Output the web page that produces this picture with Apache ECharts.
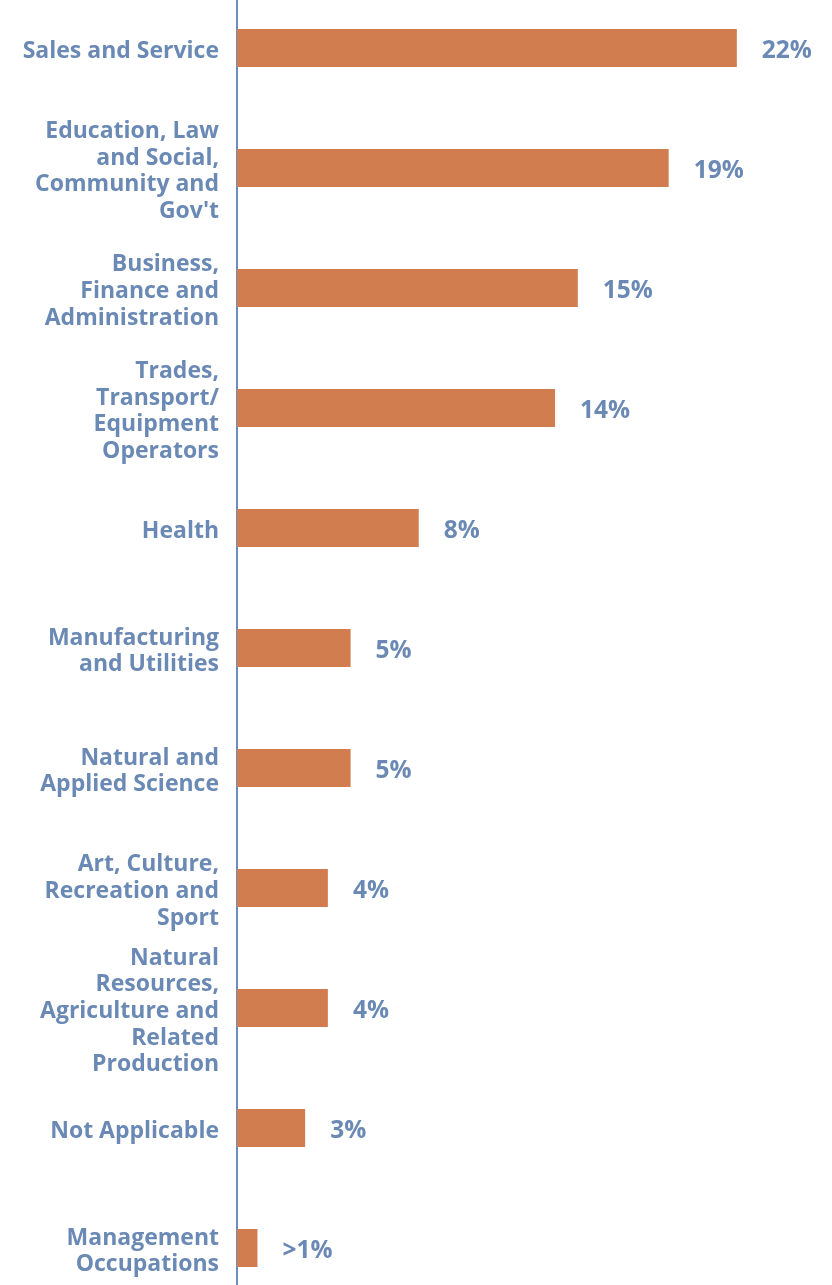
<!DOCTYPE html>
<html>
<head>
<meta charset="utf-8">
<script src="https://cdn.jsdelivr.net/npm/echarts@6/dist/echarts.min.js"></script>
<style>
html,body{margin:0;padding:0;background:#fff;}
#chart{width:832px;height:1285px;}
</style>
</head>
<body>
<div id="chart"></div>
<script>
// Occupation categories, top to bottom
const categories = [
  "Sales and Service",
  "Education, Law\nand Social,\nCommunity and\nGov't",
  "Business,\nFinance and\nAdministration",
  "Trades,\nTransport/\nEquipment\nOperators",
  "Health",
  "Manufacturing\nand Utilities",
  "Natural and\nApplied Science",
  "Art, Culture,\nRecreation and\nSport",
  "Natural\nResources,\nAgriculture and\nRelated\nProduction",
  "Not Applicable",
  "Management\nOccupations"
];
// Share of respondents (%)
const shares = [22, 19, 15, 14, 8, 5, 5, 4, 4, 3, 0.9];
// Text shown at the end of each bar
const shareLabels = ["22%", "19%", "15%", "14%", "8%", "5%", "5%", "4%", "4%", "3%", ">1%"];

const textColor = '#6a89b4';
const font = '"Open Sans", sans-serif';

const chart = echarts.init(document.getElementById('chart'));
chart.setOption({
  animation: false,
  grid: [
    // bars and the vertical axis line
    { left: 237, right: 27, top: -12, bottom: -23, outerBoundsMode: 'none', containLabel: false },
    // category names, sitting a few pixels below the bar centres
    { left: 237, right: 27, top: -8.5, bottom: -26.5, outerBoundsMode: 'none', containLabel: false }
  ],
  xAxis: [
    { type: 'value', min: 0, max: 25, show: false, gridIndex: 0 },
    { type: 'value', min: 0, max: 25, show: false, gridIndex: 1 }
  ],
  yAxis: [
    {
      type: 'category',
      gridIndex: 0,
      inverse: true,
      data: categories,
      axisLine: { show: true, lineStyle: { color: '#6f8fba', width: 2 } },
      axisTick: { show: false },
      axisLabel: { show: false }
    },
    {
      type: 'category',
      gridIndex: 1,
      inverse: true,
      data: categories,
      axisLine: { show: false },
      axisTick: { show: false },
      splitLine: { show: false },
      axisLabel: {
        color: textColor,
        fontFamily: font,
        fontWeight: 'bold',
        fontSize: 23,
        lineHeight: 26.7,
        align: 'right',
        margin: 18
      }
    }
  ],
  series: [{
    type: 'bar',
    xAxisIndex: 0,
    yAxisIndex: 0,
    data: shares,
    barWidth: 38,
    itemStyle: { color: '#d17d50' },
    label: {
      show: true,
      position: 'right',
      distance: 25,
      offset: [0, 3],
      color: textColor,
      fontFamily: font,
      fontWeight: 'bold',
      fontSize: 24.5,
      formatter: p => shareLabels[p.dataIndex]
    }
  }]
});
</script>
</body>
</html>
